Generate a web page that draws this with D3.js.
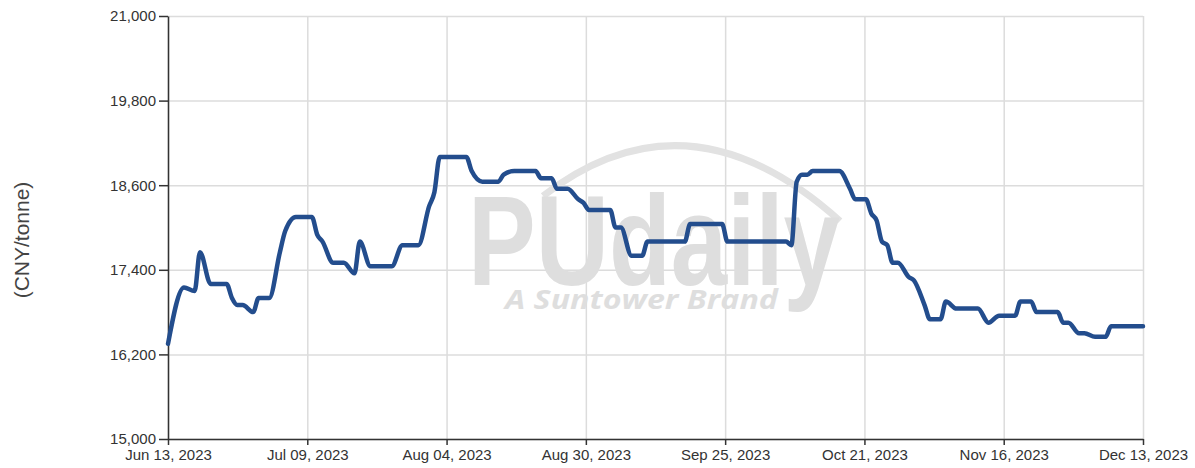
<!DOCTYPE html>
<html>
<head>
<meta charset="utf-8">
<script src="https://cdn.jsdelivr.net/npm/d3@7"></script>
<style>
  body { margin: 0; background: #fff; }
  .tick text { font-family: "Liberation Sans", Arial, sans-serif; font-size: 15px; fill: #333; }
  .grid line { stroke: #dcdcdc; stroke-width: 1.5; }
  .grid path { display: none; }
  .axis path, .axis line { stroke: #333; stroke-width: 1.5; }
</style>
</head>
<body>
<div id="vis"></div>
<script>
// price series (CNY/tonne)
const dates = [
  "2023-06-13","2023-06-16","2023-06-18","2023-06-19","2023-06-21","2023-06-24","2023-06-25","2023-06-26",
  "2023-06-27","2023-06-29","2023-06-30","2023-07-02","2023-07-04","2023-07-05","2023-07-07","2023-07-10",
  "2023-07-11","2023-07-12","2023-07-14","2023-07-16","2023-07-18","2023-07-19","2023-07-21","2023-07-25",
  "2023-07-27","2023-07-30","2023-08-01","2023-08-02","2023-08-03","2023-08-08","2023-08-09","2023-08-11",
  "2023-08-14","2023-08-15","2023-08-17","2023-08-21","2023-08-22","2023-08-24","2023-08-25","2023-08-27",
  "2023-08-29","2023-08-30","2023-08-31","2023-09-04","2023-09-05","2023-09-06","2023-09-08","2023-09-10",
  "2023-09-11","2023-09-18","2023-09-19","2023-09-25","2023-09-26","2023-10-07","2023-10-08","2023-10-09",
  "2023-10-10","2023-10-11","2023-10-12","2023-10-17","2023-10-19","2023-10-20","2023-10-22","2023-10-23",
  "2023-10-24","2023-10-25","2023-10-26","2023-10-27","2023-10-28","2023-10-30","2023-10-31","2023-11-02",
  "2023-11-03","2023-11-05","2023-11-06","2023-11-08","2023-11-12","2023-11-14","2023-11-16","2023-11-19",
  "2023-11-20","2023-11-22","2023-11-23","2023-11-27","2023-11-28","2023-11-29","2023-12-01","2023-12-02",
  "2023-12-04","2023-12-06","2023-12-07","2023-12-13"
];
const prices = [
  16350,17150,17100,17650,17200,17200,17000,16900,
  16900,16800,17000,17000,17650,17950,18150,18150,
  17900,17800,17500,17500,17350,17800,17450,17450,
  17750,17750,18300,18500,19000,19000,18800,18650,
  18650,18750,18800,18800,18700,18700,18550,18550,
  18400,18350,18250,18250,18000,18000,17600,17600,
  17800,17800,18050,18050,17800,17800,17750,18650,
  18750,18750,18800,18800,18550,18400,18400,18200,
  18100,17800,17750,17500,17500,17300,17250,16900,
  16700,16700,16950,16850,16850,16650,16750,16750,
  16950,16950,16800,16800,16650,16650,16500,16500,
  16450,16450,16600,16600
];

const yTicks = [15000, 16200, 17400, 18600, 19800, 21000];
const xTickLabels = ["Jun 13, 2023","Jul 09, 2023","Aug 04, 2023","Aug 30, 2023",
                     "Sep 25, 2023","Oct 21, 2023","Nov 16, 2023","Dec 13, 2023"];
const yLabel = "(CNY/tonne)";

const margin = {top: 16, right: 52, bottom: 29, left: 168};
const width = 1195 - margin.left - margin.right;
const height = 468 - margin.top - margin.bottom;

const parse = d3.timeParse("%Y-%m-%d");
const data = dates.map((d, i) => ({date: parse(d), value: prices[i]}));

const svg = d3.select('#vis')
  .append('svg')
  .attr('width', 1195)
  .attr('height', 468)
  .append('g')
  .attr('transform', `translate(${margin.left},${margin.top})`);

const t0 = parse("2023-06-13"), t1 = parse("2023-12-13");
const xScale = d3.scaleTime().domain([t0, t1]).range([0, width]);
const yScale = d3.scaleLinear().domain([15000, 21000]).range([height, 0]);

// evenly spaced ticks across the domain
const xTicks = d3.range(8).map(i => new Date(+t0 + i * (t1 - t0) / 7));

// grid
svg.append('g')
  .attr('class', 'grid')
  .attr('transform', `translate(0,${height})`)
  .call(d3.axisBottom(xScale).tickValues(xTicks).tickSize(-height).tickFormat(''));
svg.append('g')
  .attr('class', 'grid')
  .call(d3.axisLeft(yScale).tickValues(yTicks).tickSize(-width).tickFormat(''));

// watermark
const wm = svg.append('g').attr('fill', '#dedede');
wm.append('path')
  .attr('d', 'M375,180 Q520,68 672,205')
  .attr('fill', 'none')
  .attr('stroke', '#e2e2e2')
  .attr('stroke-width', 7);
wm.append('text')
  .attr('x', 300).attr('y', 269)
  .attr('font-family', '"Liberation Sans", Arial, sans-serif')
  .attr('font-weight', 'bold')
  .attr('font-size', 128)
  .attr('textLength', 372)
  .attr('lengthAdjust', 'spacingAndGlyphs')
  .text('PUdaily');
wm.append('text')
  .attr('x', 337).attr('y', 293)
  .attr('font-family', '"Open Sans", "Liberation Sans", sans-serif')
  .attr('font-weight', 'bold')
  .attr('font-style', 'italic')
  .attr('font-size', 26)
  .attr('textLength', 273)
  .attr('lengthAdjust', 'spacingAndGlyphs')
  .text('A Suntower Brand');

// axes
svg.append('g')
  .attr('class', 'axis')
  .attr('transform', `translate(0,${height})`)
  .call(d3.axisBottom(xScale).tickValues(xTicks).tickSize(6).tickPadding(4).tickSizeOuter(0)
    .tickFormat((d, i) => xTickLabels[i]));
svg.append('g')
  .attr('class', 'axis')
  .call(d3.axisLeft(yScale).tickValues(yTicks).tickSize(9).tickPadding(3).tickSizeOuter(0)
    .tickFormat(d3.format(',')));

svg.append('text')
  .attr('transform', 'rotate(-90)')
  .attr('x', -(240 - margin.top))
  .attr('y', 22 - margin.left)
  .attr('dy', '0.35em')
  .attr('text-anchor', 'middle')
  .attr('font-family', '"Liberation Sans", Arial, sans-serif')
  .attr('font-size', 21)
  .attr('fill', '#444')
  .text(yLabel);

// line
const line = d3.line()
  .x(d => xScale(d.date))
  .y(d => yScale(d.value))
  .curve(d3.curveMonotoneX);

svg.append('path')
  .datum(data)
  .attr('fill', 'none')
  .attr('stroke', '#234d8d')
  .attr('stroke-width', 4.5)
  .attr('stroke-linejoin', 'round')
  .attr('stroke-linecap', 'round')
  .attr('d', line);
</script>
</body>
</html>
